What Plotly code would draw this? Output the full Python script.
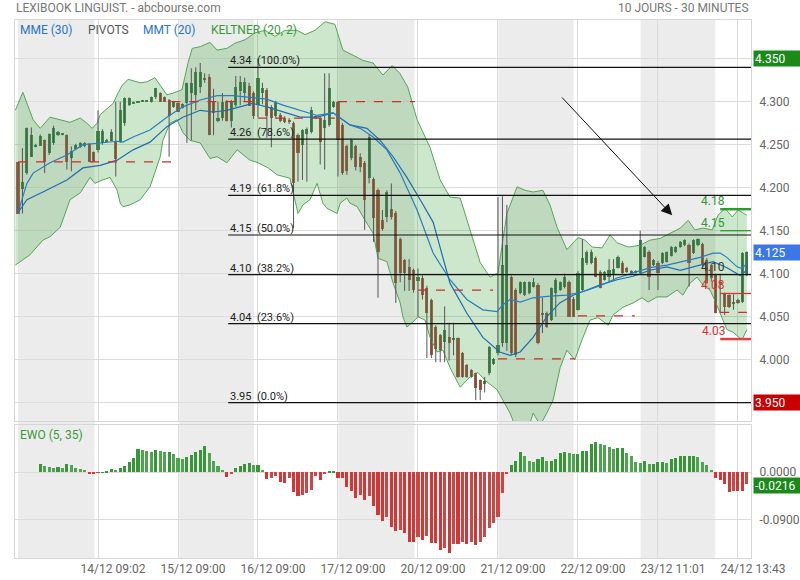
import plotly.graph_objects as go

# ---------------- data ----------------
N = 165
bar_idx = list(range(N))

opens = [
4.230, 4.199, 4.217, 4.236, 4.249, 4.249, 4.255, 4.240, 4.252, 4.261,
4.262, 4.261, 4.235, 4.245, 4.247, 4.248, 4.251, 4.241, 4.244, 4.252,
4.254, 4.254, 4.253, 4.253, 4.275, 4.296, 4.299, 4.300, 4.301, 4.301,
4.300, 4.306, 4.310, 4.305, 4.302, 4.294, 4.298, 4.293, 4.298, 4.310,
4.308, 4.317, 4.328, 4.329, 4.300, 4.277, 4.281, 4.300, 4.277, 4.296,
4.313, 4.310, 4.318, 4.310, 4.296, 4.310, 4.314, 4.294, 4.283, 4.285,
4.281, 4.279, 4.275, 4.261, 4.250, 4.262, 4.265, 4.282, 4.281, 4.269,
4.273, 4.294, 4.300, 4.273, 4.248, 4.234, 4.248, 4.236, 4.229, 4.211,
4.210, 4.197, 4.162, 4.166, 4.175, 4.171, 4.140, 4.116, 4.108, 4.104,
4.092, 4.095, 4.083, 4.069, 4.038, 4.029, 4.021, 4.026, 4.023, 4.025,
4.008, 3.994, 3.988, 3.984, 3.976, 3.972, 3.984, 3.995, 4.008, 4.019,
4.019, 4.096, 4.081, 4.077, 4.075, 4.077, 4.085, 4.087, 4.053, 4.054,
4.046, 4.077, 4.081, 4.084, 4.090, 4.071, 4.058, 4.081, 4.112, 4.112,
4.118, 4.102, 4.093, 4.096, 4.098, 4.107, 4.113, 4.107, 4.100, 4.103,
4.101, 4.120, 4.125, 4.110, 4.113, 4.112, 4.114, 4.121, 4.125, 4.131,
4.133, 4.133, 4.124, 4.133, 4.135, 4.116, 4.110, 4.098, 4.090, 4.077,
4.075, 4.066, 4.070, 4.067, 4.098]

highs = [
4.230, 4.246, 4.270, 4.270, 4.251, 4.262, 4.256, 4.263, 4.272, 4.266,
4.263, 4.262, 4.248, 4.251, 4.253, 4.253, 4.252, 4.242, 4.290, 4.268,
4.257, 4.268, 4.300, 4.300, 4.305, 4.305, 4.300, 4.301, 4.302, 4.302,
4.306, 4.316, 4.311, 4.306, 4.303, 4.301, 4.299, 4.298, 4.322, 4.339,
4.340, 4.345, 4.333, 4.332, 4.315, 4.300, 4.310, 4.302, 4.302, 4.330,
4.330, 4.328, 4.322, 4.312, 4.350, 4.322, 4.316, 4.296, 4.301, 4.287,
4.283, 4.281, 4.277, 4.263, 4.268, 4.270, 4.294, 4.284, 4.283, 4.333,
4.333, 4.301, 4.301, 4.275, 4.250, 4.257, 4.250, 4.240, 4.231, 4.262,
4.212, 4.199, 4.174, 4.197, 4.205, 4.173, 4.142, 4.117, 4.117, 4.106,
4.106, 4.098, 4.086, 4.071, 4.040, 4.030, 4.062, 4.043, 4.043, 4.026,
4.009, 3.995, 3.989, 3.985, 3.977, 3.980, 4.016, 4.002, 4.189, 4.190,
4.180, 4.098, 4.083, 4.091, 4.091, 4.091, 4.095, 4.089, 4.072, 4.056,
4.084, 4.095, 4.091, 4.100, 4.092, 4.073, 4.103, 4.140, 4.127, 4.128,
4.120, 4.104, 4.103, 4.117, 4.117, 4.121, 4.115, 4.108, 4.104, 4.104,
4.150, 4.132, 4.127, 4.117, 4.115, 4.125, 4.126, 4.132, 4.132, 4.138,
4.140, 4.135, 4.140, 4.141, 4.136, 4.118, 4.112, 4.100, 4.100, 4.078,
4.076, 4.076, 4.071, 4.125, 4.126]

lows = [
4.170, 4.170, 4.215, 4.236, 4.247, 4.249, 4.217, 4.238, 4.250, 4.260,
4.261, 4.221, 4.219, 4.244, 4.246, 4.247, 4.230, 4.230, 4.241, 4.250,
4.253, 4.254, 4.213, 4.252, 4.272, 4.295, 4.298, 4.299, 4.300, 4.300,
4.299, 4.303, 4.300, 4.300, 4.236, 4.293, 4.288, 4.292, 4.252, 4.255,
4.290, 4.310, 4.322, 4.261, 4.261, 4.276, 4.278, 4.277, 4.270, 4.294,
4.296, 4.300, 4.295, 4.280, 4.282, 4.297, 4.258, 4.247, 4.280, 4.276,
4.275, 4.274, 4.153, 4.207, 4.209, 4.207, 4.263, 4.280, 4.227, 4.221,
4.271, 4.293, 4.213, 4.215, 4.215, 4.232, 4.220, 4.218, 4.151, 4.205,
4.137, 4.072, 4.150, 4.160, 4.163, 4.066, 4.090, 4.080, 4.080, 4.078,
4.050, 4.070, 4.002, 4.002, 3.997, 3.997, 3.997, 3.999, 4.005, 3.979,
3.979, 3.979, 3.979, 3.953, 3.953, 3.962, 3.982, 3.994, 4.005, 4.015,
4.010, 4.005, 4.003, 4.076, 4.074, 4.076, 4.084, 4.018, 4.031, 4.037,
4.045, 4.050, 4.080, 4.083, 4.050, 4.050, 4.057, 4.080, 4.110, 4.111,
4.096, 4.083, 4.092, 4.090, 4.092, 4.106, 4.100, 4.101, 4.099, 4.100,
4.100, 4.119, 4.081, 4.109, 4.081, 4.111, 4.113, 4.120, 4.124, 4.130,
4.132, 4.085, 4.123, 4.132, 4.108, 4.088, 4.091, 4.054, 4.054, 4.052,
4.060, 4.058, 4.065, 4.066, 4.097]

closes = [
4.170, 4.207, 4.269, 4.261, 4.249, 4.260, 4.230, 4.262, 4.270, 4.265,
4.262, 4.230, 4.243, 4.250, 4.252, 4.252, 4.230, 4.230, 4.266, 4.266,
4.256, 4.265, 4.233, 4.290, 4.304, 4.304, 4.299, 4.300, 4.301, 4.301,
4.305, 4.316, 4.300, 4.300, 4.283, 4.300, 4.288, 4.297, 4.322, 4.322,
4.334, 4.334, 4.325, 4.261, 4.287, 4.281, 4.300, 4.277, 4.300, 4.317,
4.323, 4.323, 4.295, 4.283, 4.327, 4.316, 4.283, 4.281, 4.300, 4.278,
4.276, 4.276, 4.205, 4.240, 4.267, 4.268, 4.290, 4.282, 4.253, 4.279,
4.316, 4.300, 4.255, 4.217, 4.219, 4.255, 4.224, 4.224, 4.186, 4.259,
4.165, 4.125, 4.152, 4.195, 4.166, 4.089, 4.101, 4.101, 4.093, 4.081,
4.096, 4.075, 4.054, 4.005, 4.013, 4.011, 4.035, 4.019, 4.025, 3.980,
3.980, 3.980, 3.980, 3.967, 3.965, 3.975, 4.015, 4.001, 4.017, 4.110,
4.133, 4.008, 4.005, 4.090, 4.090, 4.090, 4.090, 4.020, 4.054, 4.038,
4.083, 4.093, 4.090, 4.096, 4.050, 4.050, 4.101, 4.118, 4.125, 4.125,
4.096, 4.083, 4.102, 4.104, 4.106, 4.119, 4.101, 4.102, 4.103, 4.101,
4.139, 4.131, 4.096, 4.116, 4.101, 4.124, 4.125, 4.131, 4.131, 4.137,
4.139, 4.112, 4.139, 4.140, 4.110, 4.089, 4.095, 4.054, 4.089, 4.061,
4.061, 4.067, 4.066, 4.124, 4.125]

# Keltner (20, 2) bands, read at bar positions
kelt_up_x = [-0.6, 1.1, 3.4, 5.0, 7.2, 9.5, 11.7, 14.0, 15.5, 16.7, 17.8, 18.5, 21.4, 22.5, 23.4, 24.8,
             27.5, 29.0, 30.8, 32.0, 33.5, 34.9, 36.9, 38.3, 39.2, 41.0, 43.2, 44.8, 47.0, 48.8, 51.1,
             53.3, 55.6, 57.8, 60.1, 62.8, 64.6, 66.8, 69.1, 71.3, 73.1, 75.4, 77.6, 79.9, 82.1, 84.2,
             85.9, 87.7, 89.8, 92.7, 95.0, 97.2, 99.5, 101.7, 104.0, 106.2, 108.0, 109.1, 110.0, 112.3,
             114.1, 115.9, 118.1, 119.7, 121.3, 123.5, 126.0, 127.6, 129.2, 131.4, 133.2, 134.8, 137.3,
             140.0, 142.2, 144.5, 146.7, 149.0, 150.8, 152.3, 154.1, 156.2, 157.5, 159.1, 160.7, 162.0, 164.0]
kelt_up = [4.290, 4.311, 4.279, 4.269, 4.282, 4.279, 4.276, 4.281, 4.275, 4.269, 4.275, 4.285, 4.298, 4.310,
           4.319, 4.326, 4.322, 4.323, 4.328, 4.319, 4.308, 4.310, 4.314, 4.346, 4.362, 4.364, 4.369, 4.360,
           4.362, 4.368, 4.372, 4.380, 4.383, 4.376, 4.383, 4.383, 4.378, 4.383, 4.393, 4.390, 4.360, 4.354,
           4.348, 4.345, 4.331, 4.342, 4.333, 4.317, 4.279, 4.247, 4.209, 4.189, 4.188, 4.151, 4.113, 4.096,
           4.101, 4.139, 4.170, 4.201, 4.197, 4.195, 4.197, 4.180, 4.154, 4.128, 4.142, 4.139, 4.131, 4.130,
           4.145, 4.136, 4.131, 4.133, 4.139, 4.141, 4.147, 4.153, 4.162, 4.151, 4.153, 4.151, 4.168, 4.176,
           4.166, 4.174, 4.168]
kelt_lo_x = [-0.6, 2.7, 5.6, 7.2, 9.5, 11.7, 14.0, 16.2, 17.3, 18.5, 20.7, 22.3, 23.0, 23.6, 25.2, 27.5,
             29.7, 32.0, 32.6, 34.2, 35.8, 37.1, 38.7, 41.0, 43.2, 44.8, 47.0, 49.3, 52.2, 54.0, 56.3,
             58.3, 61.2, 63.0, 64.1, 65.7, 67.3, 68.6, 69.5, 71.8, 72.5, 74.0, 74.7, 76.3, 78.1, 79.9,
             81.0, 83.0, 84.4, 86.0, 86.6, 87.5, 88.9, 90.0, 91.6, 92.7, 94.3, 95.6, 97.2, 99.5, 101.7,
             103.5, 105.1, 107.8, 109.1, 110.7, 111.8, 114.1, 115.9, 117.5, 119.0, 120.4, 122.0, 123.5,
             125.3, 126.9, 128.7, 130.5, 132.8, 133.9, 136.1, 138.4, 140.4, 141.8, 143.8, 146.0, 148.3,
             149.6, 151.2, 152.8, 154.1, 155.7, 156.8, 158.0, 159.5, 160.9, 162.9, 164.0]
kelt_lo = [4.110, 4.122, 4.139, 4.143, 4.154, 4.186, 4.194, 4.212, 4.205, 4.208, 4.212, 4.197, 4.182, 4.178,
           4.180, 4.186, 4.201, 4.236, 4.255, 4.275, 4.279, 4.264, 4.255, 4.252, 4.234, 4.236, 4.229, 4.244,
           4.232, 4.229, 4.223, 4.215, 4.211, 4.170, 4.180, 4.186, 4.205, 4.182, 4.176, 4.170, 4.182, 4.188,
           4.182, 4.178, 4.162, 4.147, 4.118, 4.114, 4.089, 4.066, 4.050, 4.038, 4.044, 4.050, 4.046, 4.026,
           4.009, 4.011, 3.991, 3.968, 3.980, 3.985, 3.976, 3.965, 3.953, 3.938, 3.924, 3.907, 3.938, 3.924,
           3.938, 3.953, 3.991, 4.011, 4.000, 4.023, 4.046, 4.049, 4.040, 4.052, 4.061, 4.066, 4.072, 4.067,
           4.073, 4.073, 4.081, 4.075, 4.089, 4.096, 4.087, 4.081, 4.069, 4.054, 4.035, 4.032, 4.023, 4.035]

# moving averages
mmt_x = [0, 2.0, 3.4, 7.2, 11.0, 14.6, 18.5, 22.3, 23.6, 25.9, 29.7, 33.5, 37.1, 41.0, 44.8, 48.4, 52.2,
         56.0, 59.6, 63.5, 67.3, 70.9, 74.7, 77.0, 79.9, 83.0, 86.0, 89.8, 93.4, 97.2, 101.0, 104.6, 107.8,
         109.1, 110.7, 113.0, 115.9, 119.7, 123.5, 127.1, 131.0, 134.8, 138.4, 142.2, 146.0, 149.6, 153.5,
         156.4, 158.0, 159.5, 161.8, 162.9, 164.0]
mmt = [4.171, 4.205, 4.217, 4.229, 4.238, 4.250, 4.252, 4.254, 4.253, 4.259, 4.267, 4.282, 4.294, 4.302,
       4.307, 4.307, 4.305, 4.303, 4.296, 4.290, 4.284, 4.287, 4.273, 4.269, 4.259, 4.244, 4.217, 4.174,
       4.124, 4.093, 4.070, 4.058, 4.056, 4.064, 4.070, 4.067, 4.072, 4.074, 4.075, 4.079, 4.086, 4.095,
       4.101, 4.107, 4.110, 4.114, 4.119, 4.124, 4.124, 4.119, 4.108, 4.106, 4.112]
mme_x = [0, 2.0, 5.6, 11.0, 14.6, 18.5, 22.3, 25.9, 29.7, 33.5, 37.1, 41.0, 43.9, 47.0, 49.9, 52.8, 56.0,
         59.6, 63.5, 67.3, 70.9, 72.5, 74.7, 78.5, 81.5, 84.4, 87.5, 90.5, 93.4, 97.2, 101.0, 104.6, 108.4,
         110.7, 113.0, 115.9, 119.0, 121.9, 124.9, 128.0, 131.0, 134.8, 138.4, 142.2, 146.0, 149.0, 152.8,
         156.4, 159.5, 162.5, 164.0]
mme = [4.171, 4.186, 4.195, 4.209, 4.223, 4.226, 4.232, 4.244, 4.253, 4.271, 4.282, 4.290, 4.288, 4.290,
       4.294, 4.298, 4.294, 4.288, 4.282, 4.282, 4.287, 4.281, 4.273, 4.269, 4.255, 4.236, 4.212, 4.186,
       4.160, 4.089, 4.054, 4.026, 4.009, 4.005, 4.009, 4.026, 4.050, 4.066, 4.075, 4.081, 4.087, 4.093,
       4.097, 4.104, 4.108, 4.104, 4.109, 4.114, 4.107, 4.098, 4.104]

# EWO (5, 35)
ewo_x = list(range(5, 165))
ewo = [
0.0157, 0.012, 0.010, 0.0082, 0.010, 0.0088, 0.0157, 0.0132, 0.0082, 0.0069,
0.0044, -0.0019, -0.002, -0.0006, 0.0005, 0.002, 0.0063, 0.0044, 0.0075, 0.012,
0.0195, 0.027, 0.044, 0.042, 0.040, 0.039, 0.042, 0.040, 0.038, 0.038,
0.034, 0.027, 0.026, 0.028, 0.033, 0.038, 0.042, 0.050, 0.036, 0.022,
0.0126, 0.0044, -0.0082, -0.0031, 0.0082, 0.0126, 0.016, 0.0176, 0.0145, 0.0145,
0.0044, -0.0126, -0.010, -0.0063, -0.018, -0.020, -0.011, -0.038, -0.044, -0.042,
-0.039, -0.033, -0.0063, -0.0138, -0.0025, 0.0025, 0.0025, -0.010, -0.010, -0.027,
-0.036, -0.048, -0.043, -0.052, -0.044, -0.064, -0.081, -0.092, -0.084, -0.103,
-0.110, -0.109, -0.114, -0.131, -0.131, -0.123, -0.127, -0.121, -0.133, -0.134,
-0.147, -0.142, -0.153, -0.136, -0.136, -0.131, -0.136, -0.131, -0.138, -0.131,
-0.123, -0.106, -0.095, -0.084, -0.040, -0.003, 0.0145, 0.022, 0.038, 0.031,
0.021, 0.0195, 0.0245, 0.029, 0.022, 0.022, 0.026, 0.036, 0.038, 0.036,
0.035, 0.035, 0.040, 0.040, 0.053, 0.057, 0.053, 0.051, 0.048, 0.044,
0.045, 0.046, 0.036, 0.031, 0.0195, 0.0176, 0.021, 0.016, 0.016, 0.0195,
0.0195, 0.0176, 0.0245, 0.027, 0.030, 0.030, 0.030, 0.030, 0.028, 0.0195,
0.0138, 0.0044, -0.010, -0.0138, -0.023, -0.038, -0.035, -0.035, -0.035, -0.0216]

# x axis ticks (bar index of first bar of each day)
tick_pos = [18, 36, 54, 72, 90, 108, 126, 144, 162]
tick_labels = ["14/12 09:02", "15/12 09:00", "16/12 09:00", "17/12 09:00", "20/12 09:00",
               "21/12 09:00", "22/12 09:00", "23/12 11:01", "24/12 13:43"]
# shaded (alternate) days, in bar index
shade_start = [0, 36.3, 72.1, 108.1, 140.1]
shade_end = [17.2, 53.1, 89.2, 125.0, 156.9]

price_ticks = [3.95, 4.00, 4.05, 4.10, 4.15, 4.20, 4.25, 4.30, 4.35]
price_tick_text = ["", "4.000", "4.050", "4.100", "4.150", "4.200", "4.250", "4.300", ""]

# Fibonacci retracement
fib_low, fib_high = 3.95, 4.34
fib_pcts = [100.0, 78.6, 61.8, 50.0, 38.2, 23.6, 0.0]
fib_start = 47.3

# daily pivots (start bar, end bar, level)
piv_start = [0, 34.5, 54.0, 72.0, 90.0, 108.0, 126.0, 158.0]
piv_end = [35.3, 54.0, 71.3, 89.3, 106.9, 125.3, 138.8, 164.0]
piv_level = [4.230, 4.300, 4.281, 4.300, 4.081, 4.001, 4.051, 4.055]

# current-day pivot levels
lvl_r2, lvl_r1, lvl_p, lvl_s1, lvl_s2 = 4.175, 4.150, 4.100, 4.077, 4.024
lvl_labels = ["4.18", "4.15", "4.10", "4.08", "4.03"]

last_price = 4.125
high_box, low_box = 4.350, 3.950
ewo_last = -0.0216

# ---------------- figure ----------------
assert len(opens) == len(highs) == len(lows) == len(closes) == N
assert len(ewo) == len(ewo_x)
assert len(kelt_up) == len(kelt_up_x) and len(kelt_lo) == len(kelt_lo_x)
assert len(mmt) == len(mmt_x) and len(mme) == len(mme_x)

FONT = "Roboto, Arial, sans-serif"
GREEN_C, RED_C = "#37884a", "#b5523b"
XR = [-0.675, 164.93]

fig = go.Figure()

# Keltner fill + edges
fig.add_trace(go.Scatter(x=kelt_up_x + kelt_lo_x[::-1], y=kelt_up + kelt_lo[::-1], fill="toself",
                         fillcolor="rgba(70,165,70,0.27)", line=dict(width=0), mode="lines",
                         hoverinfo="skip", showlegend=False))
for xs, ys in ((kelt_up_x, kelt_up), (kelt_lo_x, kelt_lo)):
    fig.add_trace(go.Scatter(x=xs, y=ys, mode="lines", line=dict(color="#55a655", width=1),
                             showlegend=False, hoverinfo="skip"))

# candles: wicks + bodies
wx, wy = [], []
for i in bar_idx:
    wx += [i, i, None]
    wy += [lows[i], highs[i], None]
fig.add_trace(go.Scatter(x=wx, y=wy, mode="lines", line=dict(color="#555555", width=1),
                         showlegend=False, hoverinfo="skip"))
body_base, body_h, body_col = [], [], []
for o, c in zip(opens, closes):
    h = abs(c - o)
    if h < 0.0012:
        body_base.append(min(o, c) - (0.0012 - h) / 2)
        body_h.append(0.0012)
    else:
        body_base.append(min(o, c))
        body_h.append(h)
    body_col.append(GREEN_C if c >= o else RED_C)
fig.add_trace(go.Bar(x=bar_idx, y=body_h, base=body_base, width=0.72,
                     marker=dict(color=body_col, line=dict(width=0)), showlegend=False, hoverinfo="skip"))

# moving averages
fig.add_trace(go.Scatter(x=mme_x, y=mme, mode="lines", line=dict(color="#1f6db0", width=1.2),
                         showlegend=False, hoverinfo="skip"))
fig.add_trace(go.Scatter(x=mmt_x, y=mmt, mode="lines", line=dict(color="#2b7cc0", width=1.2),
                         showlegend=False, hoverinfo="skip"))

# EWO histogram
ewo_col = []
for k, v in enumerate(ewo):
    prev = ewo[k - 1] if k > 0 else v
    if v >= 0:
        ewo_col.append("#379737" if v >= prev else "#4fa44f")
    else:
        ewo_col.append("#d43535" if v <= prev else "#cc4646")
fig.add_trace(go.Bar(x=ewo_x, y=ewo, width=0.68, marker=dict(color=ewo_col, line=dict(width=0)),
                     xaxis="x2", yaxis="y2", showlegend=False, hoverinfo="skip"))

shapes = []
# day shading
for s, e in zip(shade_start, shade_end):
    shapes.append(dict(type="rect", xref="x", yref="paper", x0=s, x1=e, y0=0, y1=1,
                       fillcolor="rgba(0,10,0,0.08)", line=dict(width=0), layer="below"))
# fibonacci lines
for p in fib_pcts:
    lv = fib_low + (fib_high - fib_low) * p / 100.0
    shapes.append(dict(type="line", xref="x", yref="y", x0=fib_start, x1=XR[1], y0=lv, y1=lv,
                       line=dict(color="#111111", width=1.2)))
# pivot dashed lines
for s, e, lv in zip(piv_start, piv_end, piv_level):
    shapes.append(dict(type="line", xref="x", yref="y", x0=s, x1=e, y0=lv, y1=lv,
                       line=dict(color="#d42a2a", width=1.3, dash="dash")))
# current-day levels
for lv, col, w in ((lvl_r2, "#2f9a2f", 2.5), (lvl_r1, "#2f9a2f", 1.3), (lvl_s1, "#e03030", 1.3),
                   (lvl_s2, "#e84040", 2.5)):
    shapes.append(dict(type="line", xref="x", yref="y", x0=158, x1=XR[1], y0=lv, y1=lv,
                       line=dict(color=col, width=w)))

ann = []
# titles
ann.append(dict(text="LEXIBOOK LINGUIST. - abcbourse.com", xref="paper", yref="paper", x=-0.001, y=1,
                xanchor="left", yanchor="bottom", yshift=3, showarrow=False, font=dict(size=12, color="#777777")))
ann.append(dict(text="10 JOURS - 30 MINUTES", xref="paper", yref="paper", x=1, y=1, xanchor="right",
                yanchor="bottom", yshift=3, showarrow=False, font=dict(size=12, color="#777777")))
# indicator legend
for txt, px, col in (("MME (30)", 18, "#2b74c8"), ("PIVOTS", 86, "#555555"), ("MMT (20)", 141, "#2b74c8"),
                     ("KELTNER (20, 2)", 209, "#3a9a3a")):
    ann.append(dict(text=txt, xref="paper", yref="paper", x=(px - 15) / 736.0, y=1, xanchor="left",
                    yanchor="top", yshift=-1, showarrow=False, font=dict(size=12, color=col)))
ann.append(dict(text="EWO (5, 35)", xref="paper", yref="y2 domain", x=(18 - 15) / 736.0, y=1, xanchor="left",
                yanchor="top", yshift=-1, showarrow=False, font=dict(size=12, color="#3a9a3a")))
# fib labels
for p in fib_pcts:
    lv = fib_low + (fib_high - fib_low) * p / 100.0
    ann.append(dict(text="%.2f\u00a0\u00a0(%.1f%%)" % (lv, p), x=fib_start, y=lv, xref="x", yref="y",
                    xanchor="left", yanchor="bottom", yshift=-2, showarrow=False,
                    font=dict(size=11, color="#222222")))
# pivot labels
for lv, txt, col in ((lvl_r2, lvl_labels[0], "#2f9a2f"), (lvl_r1, lvl_labels[1], "#2f9a2f"),
                     (4.099, lvl_labels[2], "#333333"), (lvl_s1, lvl_labels[3], "#e03030"),
                     (lvl_s2, lvl_labels[4], "#e03030")):
    ann.append(dict(text=txt, x=159.6, y=lv, xref="x", yref="y", xanchor="right", yanchor="bottom",
                    yshift=-1, showarrow=False, font=dict(size=12, color=col)))
# price boxes on axis
for val, txt, bg, yr, ys in ((high_box, "4.350", "#1b8a1b", "y", 0), (low_box, "3.950", "#c80000", "y", 0),
                             (last_price, "%.3f" % last_price, "#3b78e7", "y", 0),
                             (ewo_last, "%.4f" % ewo_last, "#1b8a1b", "y2", -2)):
    ann.append(dict(text=txt, xref="paper", yref=yr, x=1, y=val, xanchor="left", yanchor="middle",
                    xshift=2, yshift=ys, showarrow=False, bgcolor=bg, width=44, height=13, align="left",
                    font=dict(size=12, color="white"), borderpad=1))
# arrow
ann.append(dict(x=147.2, y=4.168, ax=122.1, ay=4.3066, xref="x", yref="y", axref="x", ayref="y",
                text="", showarrow=True, arrowhead=2, arrowsize=2.2, arrowwidth=1, arrowcolor="#111111"))

fig.update_layout(
    width=800, height=580, margin=dict(l=15, r=49, t=20, b=22, autoexpand=False),
    paper_bgcolor="white", plot_bgcolor="white", barmode="overlay", bargap=0,
    font=dict(family=FONT, size=12, color="#666666"), showlegend=False,
    shapes=shapes, annotations=ann,
    xaxis=dict(domain=[0, 1], anchor="y", range=XR, tickvals=tick_pos, showticklabels=False,
               showgrid=True, gridcolor="#dcdcdc", zeroline=False, showline=True, mirror=True,
               linecolor="#d6d6d6", ticks="", automargin=False),
    xaxis2=dict(domain=[0, 1], anchor="y2", matches="x", range=XR, tickvals=tick_pos, ticktext=tick_labels,
                showgrid=True, gridcolor="#dcdcdc", zeroline=False, showline=True, mirror=True,
                linecolor="#d6d6d6", ticks="", ticklabelshift=15, automargin=False,
                tickfont=dict(size=12, color="#666666")),
    yaxis=dict(domain=[0.2546, 1], anchor="x", side="right", range=[3.9287, 4.395], tickvals=price_ticks,
               ticktext=price_tick_text, showgrid=True, gridcolor="#dcdcdc", zeroline=False, showline=True,
               mirror=True, linecolor="#d6d6d6", ticks="outside", ticklen=5, tickcolor="rgba(0,0,0,0)",
               automargin=False, tickfont=dict(size=12, color="#666666")),
    yaxis2=dict(domain=[0, 0.2472], anchor="x2", side="right", range=[-0.1617, 0.0892], tickvals=[0, -0.09],
                ticktext=["0.0000", "-0.0900"], showgrid=True, gridcolor="#dcdcdc", zeroline=False,
                showline=True, mirror=True, linecolor="#d6d6d6", ticks="outside", ticklen=5,
                tickcolor="rgba(0,0,0,0)", automargin=False, tickfont=dict(size=12, color="#666666")),
)

# remove the browser's default 8px body margin so the 800x580 figure fills the window exactly
fig.write_html("out.html", config={"displayModeBar": False},
               post_script="document.body.style.margin='0px';")
